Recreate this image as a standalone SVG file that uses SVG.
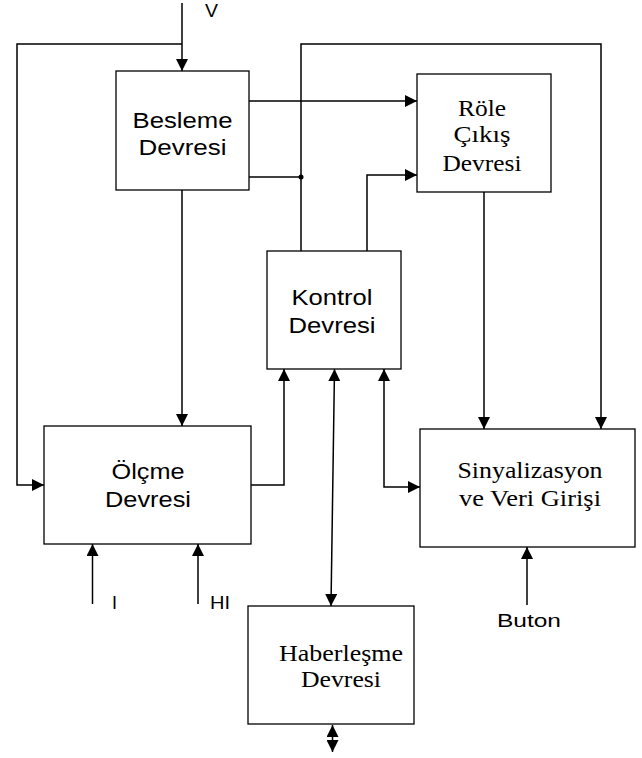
<svg xmlns="http://www.w3.org/2000/svg" width="642" height="758" viewBox="0 0 642 758">
<defs>
<marker id="ah" markerUnits="userSpaceOnUse" markerWidth="12" markerHeight="12" viewBox="0 0 10 10" refX="10" refY="5" orient="auto">
<path d="M0,0 L10,5 L0,10 Z" fill="#000"/>
</marker>
<marker id="ahs" markerUnits="userSpaceOnUse" markerWidth="12" markerHeight="12" viewBox="0 0 10 10" refX="0" refY="5" orient="auto">
<path d="M10,0 L0,5 L10,10 Z" fill="#000"/>
</marker>
</defs>
<style>
.box{fill:#fff;stroke:#000;stroke-width:1.3}
.ln{fill:none;stroke:#000;stroke-width:1.5}
.sans{font-family:"Liberation Sans",Arial,sans-serif;font-size:22px;fill:#000}
.serif{font-family:"Liberation Serif","Times New Roman",serif;font-size:23px;fill:#000}
.lbl{font-family:"Liberation Sans",Arial,sans-serif;font-size:18px;fill:#000}
</style>
<rect width="642" height="758" fill="#fff"/>
<g id="connectors">
<path class="ln" d="M182,3 V71" marker-end="url(#ah)"/>
<path class="ln" d="M182,44 H17 V485 H44" marker-end="url(#ah)"/>
<path class="ln" d="M182,190 V426" marker-end="url(#ah)"/>
<path class="ln" d="M249,101 H417" marker-end="url(#ah)"/>
<path class="ln" d="M249,177 H301"/>
<circle cx="301" cy="177" r="2.5" fill="#000"/>
<path class="ln" d="M301,251 V44 H601 V429" marker-end="url(#ah)"/>
<path class="ln" d="M367,251 V175 H417" marker-end="url(#ah)"/>
<path class="ln" d="M484,192 V429" marker-end="url(#ah)"/>
<path class="ln" d="M251,485 H284 V369" marker-end="url(#ah)"/>
<path class="ln" d="M334.5,369 L331,606" marker-start="url(#ahs)" marker-end="url(#ah)"/>
<path class="ln" d="M384,369 V487 H420" marker-start="url(#ahs)" marker-end="url(#ah)"/>
<path class="ln" d="M92.5,604 V544" marker-end="url(#ah)"/>
<path class="ln" d="M198,604 V544" marker-end="url(#ah)"/>
<path class="ln" d="M527,605 V547" marker-end="url(#ah)"/>
<path class="ln" d="M332.5,725 V752" marker-start="url(#ahs)" marker-end="url(#ah)"/>
</g>
<g id="besleme">
<rect class="box" x="116" y="71" width="133" height="119"/>
<text class="sans" x="182.5" y="128" text-anchor="middle" textLength="100" lengthAdjust="spacingAndGlyphs">Besleme</text>
<text class="sans" x="182.5" y="155" text-anchor="middle" textLength="88" lengthAdjust="spacingAndGlyphs">Devresi</text>
</g>
<g id="role">
<rect class="box" x="417" y="74" width="134" height="118"/>
<text class="serif" x="482" y="116" text-anchor="middle" textLength="48" lengthAdjust="spacingAndGlyphs">Röle</text>
<text class="serif" x="482" y="142" text-anchor="middle" textLength="57" lengthAdjust="spacingAndGlyphs">Çıkış</text>
<text class="serif" x="482" y="171" text-anchor="middle" textLength="79" lengthAdjust="spacingAndGlyphs">Devresi</text>
</g>
<g id="kontrol">
<rect class="box" x="267" y="251" width="134" height="118"/>
<text class="sans" x="332" y="305" text-anchor="middle" textLength="81" lengthAdjust="spacingAndGlyphs">Kontrol</text>
<text class="sans" x="332" y="333" text-anchor="middle" textLength="87" lengthAdjust="spacingAndGlyphs">Devresi</text>
</g>
<g id="olcme">
<rect class="box" x="44" y="426" width="207" height="118"/>
<text class="sans" x="148" y="479" text-anchor="middle" textLength="73" lengthAdjust="spacingAndGlyphs">Ölçme</text>
<text class="sans" x="148" y="507" text-anchor="middle" textLength="86" lengthAdjust="spacingAndGlyphs">Devresi</text>
</g>
<g id="sinyalizasyon">
<rect class="box" x="420" y="429" width="215" height="118"/>
<text class="serif" x="530" y="478" text-anchor="middle" textLength="145" lengthAdjust="spacingAndGlyphs">Sinyalizasyon</text>
<text class="serif" x="530" y="506" text-anchor="middle" textLength="142" lengthAdjust="spacingAndGlyphs">ve Veri Girişi</text>
</g>
<g id="haberlesme">
<rect class="box" x="248" y="606" width="166" height="118"/>
<text class="serif" x="341" y="661" text-anchor="middle" textLength="124" lengthAdjust="spacingAndGlyphs">Haberleşme</text>
<text class="serif" x="341" y="687" text-anchor="middle" textLength="80" lengthAdjust="spacingAndGlyphs">Devresi</text>
</g>
<g id="labels">
<text class="lbl" x="205" y="17" textLength="13" lengthAdjust="spacingAndGlyphs">V</text>
<text class="lbl" x="112" y="609">I</text>
<text class="lbl" x="210" y="609" textLength="20" lengthAdjust="spacingAndGlyphs">HI</text>
<text class="lbl" x="497" y="627" textLength="64" lengthAdjust="spacingAndGlyphs">Buton</text>
</g>
</svg>
